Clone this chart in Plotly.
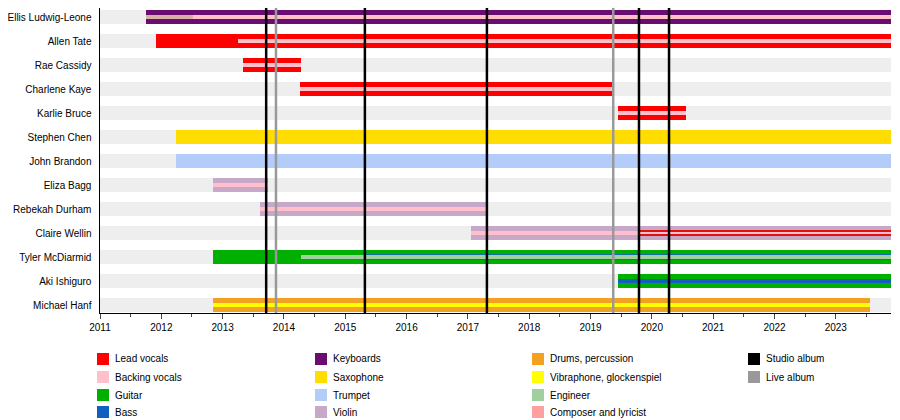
import plotly.graph_objects as go

members = ["Ellis Ludwig-Leone", "Allen Tate", "Rae Cassidy", "Charlene Kaye", "Karlie Bruce",
           "Stephen Chen", "John Brandon", "Eliza Bagg", "Rebekah Durham", "Claire Wellin",
           "Tyler McDiarmid", "Aki Ishiguro", "Michael Hanf"]
END = 2023.9

# (member, start, end, colour) - main role bars
main_bars = [
    ("Ellis Ludwig-Leone", 2011.75, END, "#6a0d70"),
    ("Allen Tate", 2011.91, END, "#ff0000"),
    ("Rae Cassidy", 2013.33, 2014.28, "#ff0000"),
    ("Charlene Kaye", 2014.26, 2019.37, "#ff0000"),
    ("Karlie Bruce", 2019.45, 2020.56, "#ff0000"),
    ("Stephen Chen", 2012.24, END, "#ffdd00"),
    ("John Brandon", 2012.24, END, "#b4ccfa"),
    ("Eliza Bagg", 2012.84, 2013.74, "#c8a8c8"),
    ("Rebekah Durham", 2013.61, 2017.31, "#c8a8c8"),
    ("Claire Wellin", 2017.05, END, "#c8a8c8"),
    ("Tyler McDiarmid", 2012.84, END, "#00b000"),
    ("Aki Ishiguro", 2019.45, END, "#00b000"),
    ("Michael Hanf", 2012.84, 2023.56, "#f4a020"),
]

# secondary role stripes (member, start, end, colour, width)
inner_bars = [
    ("Ellis Ludwig-Leone", 2011.75, END, "#ffc0cb", 0.2),
    ("Ellis Ludwig-Leone", 2011.75, 2012.52, "#d8b0a8", 0.2),
    ("Allen Tate", 2013.25, END, "#ffc0cb", 0.2),
    ("Rae Cassidy", 2013.33, 2014.28, "#ffc0cb", 0.2),
    ("Charlene Kaye", 2014.26, 2019.37, "#ffc0cb", 0.2),
    ("Karlie Bruce", 2019.45, 2020.56, "#ffc0cb", 0.2),
    ("Eliza Bagg", 2012.84, 2013.74, "#ffc0cb", 0.2),
    ("Rebekah Durham", 2013.61, 2017.31, "#ffc0cb", 0.2),
    ("Claire Wellin", 2017.05, END, "#ffc0cb", 0.2),
    ("Claire Wellin", 2019.79, END, "#e01010", 0.25),
    ("Claire Wellin", 2019.79, END, "#ffc0cb", 0.1),
    ("Tyler McDiarmid", 2015.32, END, "#1070a0", 0.25),
    ("Tyler McDiarmid", 2014.28, END, "#a0d0a0", 0.14),
    ("Aki Ishiguro", 2019.45, END, "#1060c0", 0.2),
    ("Michael Hanf", 2012.84, 2023.56, "#ffff00", 0.2),
]

studio_albums = [2013.71, 2015.32, 2017.31, 2019.79, 2020.28]
live_albums = [2013.87, 2019.37]

legend_items = [
    ("Lead vocals", "#ff0000"), ("Backing vocals", "#ffc0cb"), ("Guitar", "#00b000"), ("Bass", "#1060c0"),
    ("Keyboards", "#6a0d70"), ("Saxophone", "#ffdd00"), ("Trumpet", "#b4ccfa"), ("Violin", "#c8a8c8"),
    ("Drums, percussion", "#f4a020"), ("Vibraphone, glockenspiel", "#ffff00"), ("Engineer", "#a0d0a0"),
    ("Composer and lyricist", "#ffa0a0"),
    ("Studio album", "#000000"), ("Live album", "#999999"),
]

# page has an 8px body offset, so the figure is laid out 8px up/left
OFF = 8
L, R, T, B = 100 - OFF, 9 + OFF, 8 - OFF, 107 + OFF
PW, PH = 900 - L - R, 420 - T - B

fig = go.Figure()

# grey background rows
fig.add_trace(go.Bar(y=members, x=[END - 2011] * len(members), base=[2011] * len(members),
                     orientation="h", width=0.58, marker=dict(color="#eeeeee", line_width=0),
                     hoverinfo="skip"))

for m, s, e, c in main_bars:
    fig.add_trace(go.Bar(y=[m], x=[e - s], base=[s], orientation="h", width=0.58,
                         marker=dict(color=c, line_width=0)))
for m, s, e, c, w in inner_bars:
    fig.add_trace(go.Bar(y=[m], x=[e - s], base=[s], orientation="h", width=w,
                         marker=dict(color=c, line_width=0)))

for x in live_albums:
    fig.add_shape(type="line", x0=x, x1=x, y0=0, y1=1, yref="paper",
                  line=dict(color="#999999", width=2.5), layer="above")
for x in studio_albums:
    fig.add_shape(type="line", x0=x, x1=x, y0=0, y1=1, yref="paper",
                  line=dict(color="#000000", width=2.5), layer="above")

# legend drawn by hand in four columns (pixel positions -> paper coords)
col_x = [97, 315, 532, 748]
row_y = [359, 377, 395, 412]
cols = [legend_items[0:4], legend_items[4:8], legend_items[8:12], legend_items[12:14]]
for ci, items in enumerate(cols):
    for ri, (name, c) in enumerate(items):
        x0 = (col_x[ci] - OFF - L) / PW
        yc = (420 - B - (row_y[ri] - OFF)) / PH
        fig.add_shape(type="rect", xref="paper", yref="paper",
                      x0=x0, x1=x0 + 12 / PW, y0=yc - 6 / PH, y1=yc + 6 / PH,
                      fillcolor=c, line_width=0)
        fig.add_annotation(xref="paper", yref="paper", x=x0 + 16 / PW, y=yc, text=name,
                           showarrow=False, xanchor="left", yanchor="middle",
                           font=dict(size=10, color="black"))

fig.update_layout(
    width=900, height=420, barmode="overlay", showlegend=False,
    plot_bgcolor="white", paper_bgcolor="white",
    margin=dict(l=L, r=R, t=T, b=B),
    font=dict(family="Liberation Sans, Arial", size=10, color="black"),
    bargap=0,
)
fig.update_xaxes(range=[2011, END], tickmode="linear", tick0=2011, dtick=1,
                 showgrid=False, showline=True, linecolor="black", ticks="outside",
                 ticklen=5, minor=dict(dtick=0.5, ticks="outside", ticklen=3),
                 zeroline=False, automargin=False)
fig.update_yaxes(categoryorder="array", categoryarray=members[::-1], showgrid=False,
                 showline=True, linecolor="black", ticks="", ticksuffix="  ",
                 range=[-0.33, len(members) - 0.625], automargin=False)

fig.write_html("out.html")
